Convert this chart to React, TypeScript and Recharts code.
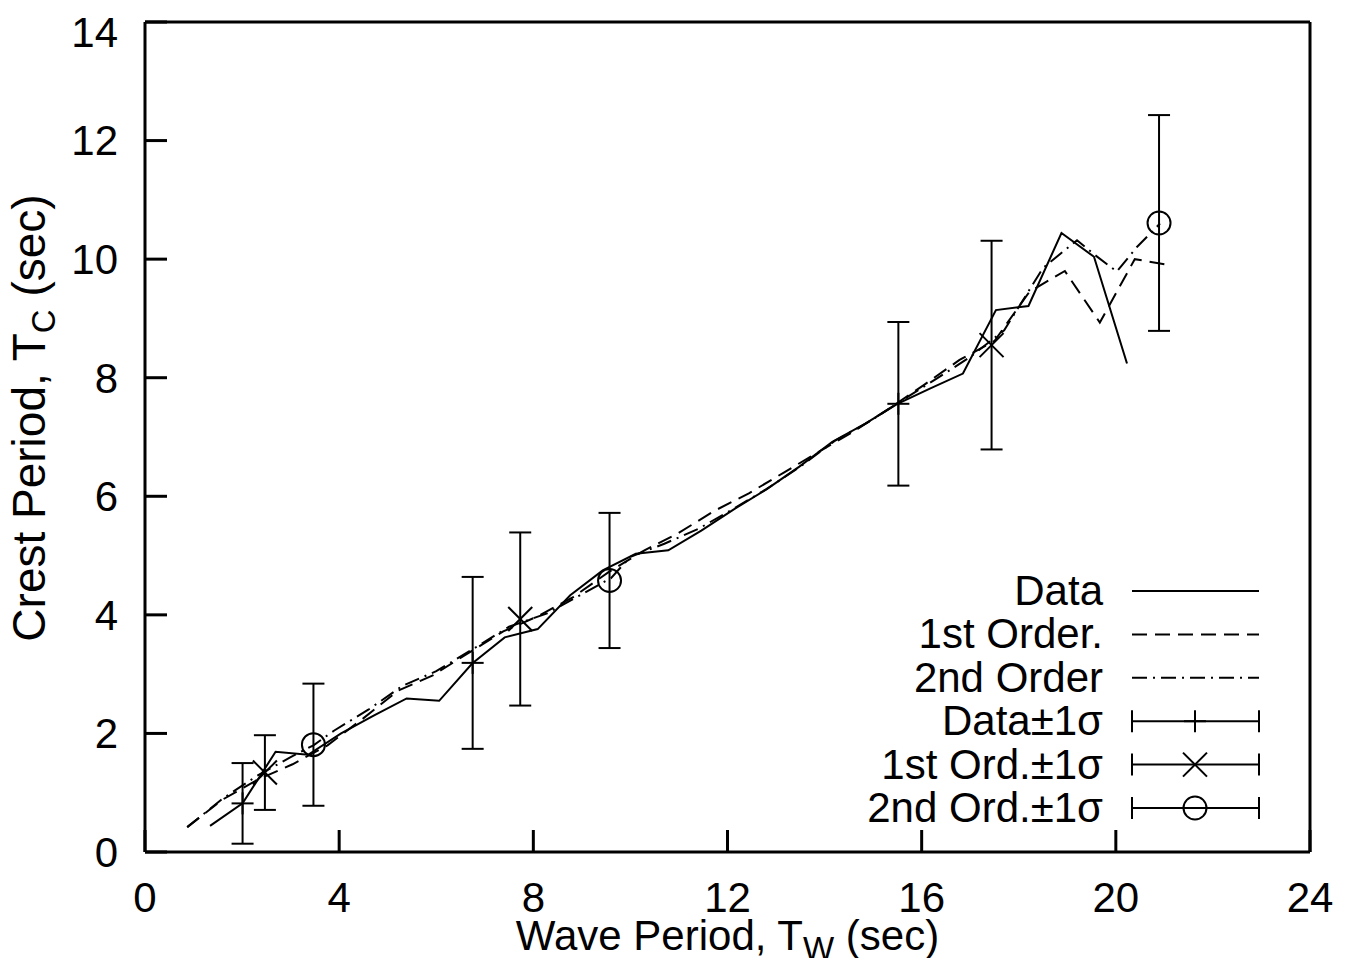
import React from 'react';
import { ComposedChart, Line, Scatter, ErrorBar, XAxis, YAxis, Label } from 'recharts';

// measured series (wave period -> crest period, seconds)
const dataX = [1.34, 2.01, 2.69, 3.36, 4.04, 4.71, 5.39, 6.06, 6.74, 7.41, 8.09, 8.76, 9.43, 10.11, 10.78, 11.46, 12.13, 12.81, 13.48, 14.16, 14.83, 15.5, 16.18, 16.85, 17.53, 18.2, 18.88, 19.55, 20.23];
const dataY = [0.44, 0.82, 1.69, 1.64, 2.0, 2.3, 2.59, 2.55, 3.18, 3.62, 3.76, 4.33, 4.75, 5.03, 5.09, 5.42, 5.78, 6.12, 6.5, 6.92, 7.22, 7.56, 7.82, 8.07, 9.14, 9.21, 10.44, 10.04, 8.24];

const firstX = [0.87, 1.59, 2.32, 3.04, 3.76, 4.49, 5.21, 5.93, 6.65, 7.38, 8.1, 8.82, 9.55, 10.27, 10.99, 11.72, 12.44, 13.16, 13.88, 14.61, 15.33, 16.05, 16.78, 17.5, 18.22, 18.95, 19.67, 20.39, 21.11];
const firstY = [0.42, 0.88, 1.22, 1.48, 1.8, 2.25, 2.72, 2.98, 3.35, 3.72, 3.98, 4.3, 4.72, 5.08, 5.38, 5.75, 6.05, 6.4, 6.75, 7.1, 7.48, 7.88, 8.3, 8.62, 9.45, 9.8, 8.93, 10.0, 9.9];

const secondX = [0.87, 1.6, 2.3, 3.0, 3.47, 3.9, 4.6, 5.3, 6.0, 6.75, 7.5, 8.27, 8.96, 9.6, 10.0, 10.7, 11.4, 12.1, 12.8, 13.5, 14.2, 14.9, 15.6, 16.3, 17.0, 17.7, 18.5, 19.2, 19.57, 20.02, 20.43, 20.91];
const secondY = [0.42, 0.9, 1.28, 1.6, 1.8, 2.05, 2.4, 2.8, 3.05, 3.42, 3.8, 4.02, 4.33, 4.62, 4.98, 5.2, 5.45, 5.78, 6.12, 6.5, 6.93, 7.25, 7.62, 7.98, 8.35, 8.8, 9.85, 10.32, 10.07, 9.79, 10.2, 10.6];

// +/- 1 sigma points
const dataSigX = [2.01, 6.75, 15.52];
const dataSigY = [0.82, 3.19, 7.56];
const dataSigE = [0.68, 1.45, 1.38];

const firstSigX = [2.47, 7.73, 17.44];
const firstSigY = [1.34, 3.93, 8.55];
const firstSigE = [0.63, 1.46, 1.76];

const secondSigX = [3.47, 9.57, 20.89];
const secondSigY = [1.81, 4.58, 10.61];
const secondSigE = [1.03, 1.14, 1.82];

const xTicks = [0, 4, 8, 12, 16, 20, 24];
const yTicks = [0, 2, 4, 6, 8, 10, 12, 14];

const legendLabels = ['Data', '1st Order.', '2nd Order', 'Data\u00b11\u03c3', '1st Ord.\u00b11\u03c3', '2nd Ord.\u00b11\u03c3'];

const toPoints = (xs: number[], ys: number[]) => xs.map((x, i) => ({ x, y: ys[i] }));
const toSigma = (xs: number[], ys: number[], es: number[]) => xs.map((x, i) => ({ x, y: ys[i], err: es[i] }));

const FONT = '"Liberation Sans", Arial, Helvetica, sans-serif';
const DASH = '15 8';
const DASHDOT = '15 6 2 6';

const Plus = ({ cx, cy }: any) => (
  <g stroke="#000" strokeWidth={2}>
    <line x1={cx - 11} y1={cy} x2={cx + 11} y2={cy} />
    <line x1={cx} y1={cy - 11} x2={cx} y2={cy + 11} />
  </g>
);
const Cross = ({ cx, cy }: any) => (
  <g stroke="#000" strokeWidth={2}>
    <line x1={cx - 12} y1={cy - 12} x2={cx + 12} y2={cy + 12} />
    <line x1={cx - 12} y1={cy + 12} x2={cx + 12} y2={cy - 12} />
  </g>
);
const Ring = ({ cx, cy }: any) => <circle cx={cx} cy={cy} r={11.5} fill="none" stroke="#000" strokeWidth={2} />;

const XTitle = ({ viewBox }: any) => (
  <text x={viewBox.x + viewBox.width / 2} y={viewBox.y + 98} textAnchor="middle" fontSize={42} fontFamily={FONT} fill="#000">
    <tspan>Wave Period, T</tspan>
    <tspan fontSize={33} dy={10}>W</tspan>
    <tspan dy={-10}> (sec)</tspan>
  </text>
);

const YTitle = () => (
  <text transform="translate(37, 410) rotate(-90)" textAnchor="middle" fontSize={46} fontFamily={FONT} fill="#000">
    <tspan>Crest Period, T</tspan>
    <tspan fontSize={33} dy={10}>C</tspan>
    <tspan dy={-10}> (sec)</tspan>
  </text>
);

const LegendBox = () => {
  const rowY = (i: number) => 31 + 43.4 * i;
  return (
    <svg width={430} height={280} style={{ position: 'absolute', left: 842, top: 552, overflow: 'visible' }}>
      {legendLabels.map((label, i) => {
        const y = rowY(i);
        return (
          <g key={label}>
            <text x={253} y={y + 14} textAnchor="end" fontSize={42} fontFamily={FONT} fill="#000">{label}</text>
            {i < 3 && (
              <line x1={282} x2={409} y1={y} y2={y} stroke="#000" strokeWidth={2}
                strokeDasharray={i === 1 ? DASH : i === 2 ? DASHDOT : undefined} />
            )}
            {i >= 3 && (
              <g stroke="#000" strokeWidth={2}>
                <line x1={282} x2={409} y1={y} y2={y} />
                <line x1={282} x2={282} y1={y - 11} y2={y + 11} />
                <line x1={409} x2={409} y1={y - 11} y2={y + 11} />
              </g>
            )}
            {i === 3 && <Plus cx={345} cy={y} />}
            {i === 4 && <Cross cx={345} cy={y} />}
            {i === 5 && <Ring cx={345} cy={y} />}
          </g>
        );
      })}
    </svg>
  );
};

export default function App() {
  const axisStyle = { stroke: '#000', strokeWidth: 3 };
  const tickStyle = { fontSize: 42, fontFamily: FONT, fill: '#000' };
  return (
    <div style={{ position: 'relative', width: 1338, height: 950, fontFamily: FONT }}>
      <ComposedChart width={1338} height={950} margin={{ top: 13, right: 35, bottom: 0, left: 0 }}>
        <XAxis xAxisId="b" type="number" dataKey="x" domain={[0, 24]} ticks={xTicks} allowDataOverflow
          height={106} axisLine={axisStyle} tickLine={axisStyle} tickSize={-22} tickMargin={52} tick={tickStyle}>
          <Label content={<XTitle />} />
        </XAxis>
        <XAxis xAxisId="t" orientation="top" type="number" dataKey="x" domain={[0, 24]} ticks={xTicks} allowDataOverflow
          height={1} axisLine={axisStyle} tickLine={axisStyle} tickSize={-22} tick={false} />
        <YAxis yAxisId="l" type="number" domain={[0, 14]} ticks={yTicks} allowDataOverflow
          width={137} axisLine={axisStyle} tickLine={axisStyle} tickSize={-22} tickMargin={49} tick={tickStyle}>
          <Label content={<YTitle />} />
        </YAxis>
        <YAxis yAxisId="r" orientation="right" type="number" domain={[0, 14]} ticks={yTicks} allowDataOverflow
          width={1} axisLine={axisStyle} tickLine={axisStyle} tickSize={-22} tick={false} />

        <Line xAxisId="b" yAxisId="l" data={toPoints(dataX, dataY)} dataKey="y" type="linear"
          stroke="#000" strokeWidth={2} dot={false} isAnimationActive={false} />
        <Line xAxisId="b" yAxisId="l" data={toPoints(firstX, firstY)} dataKey="y" type="linear"
          stroke="#000" strokeWidth={2} strokeDasharray={DASH} dot={false} isAnimationActive={false} />
        <Line xAxisId="b" yAxisId="l" data={toPoints(secondX, secondY)} dataKey="y" type="linear"
          stroke="#000" strokeWidth={2} strokeDasharray={DASHDOT} dot={false} isAnimationActive={false} />

        <Scatter xAxisId="b" yAxisId="l" data={toSigma(dataSigX, dataSigY, dataSigE)} dataKey="y"
          shape={(p: any) => <Plus {...p} />} isAnimationActive={false}>
          <ErrorBar dataKey="err" direction="y" width={11} stroke="#000" strokeWidth={2} />
        </Scatter>
        <Scatter xAxisId="b" yAxisId="l" data={toSigma(firstSigX, firstSigY, firstSigE)} dataKey="y"
          shape={(p: any) => <Cross {...p} />} isAnimationActive={false}>
          <ErrorBar dataKey="err" direction="y" width={11} stroke="#000" strokeWidth={2} />
        </Scatter>
        <Scatter xAxisId="b" yAxisId="l" data={toSigma(secondSigX, secondSigY, secondSigE)} dataKey="y"
          shape={(p: any) => <Ring {...p} />} isAnimationActive={false}>
          <ErrorBar dataKey="err" direction="y" width={11} stroke="#000" strokeWidth={2} />
        </Scatter>
      </ComposedChart>
      <LegendBox />
    </div>
  );
}
